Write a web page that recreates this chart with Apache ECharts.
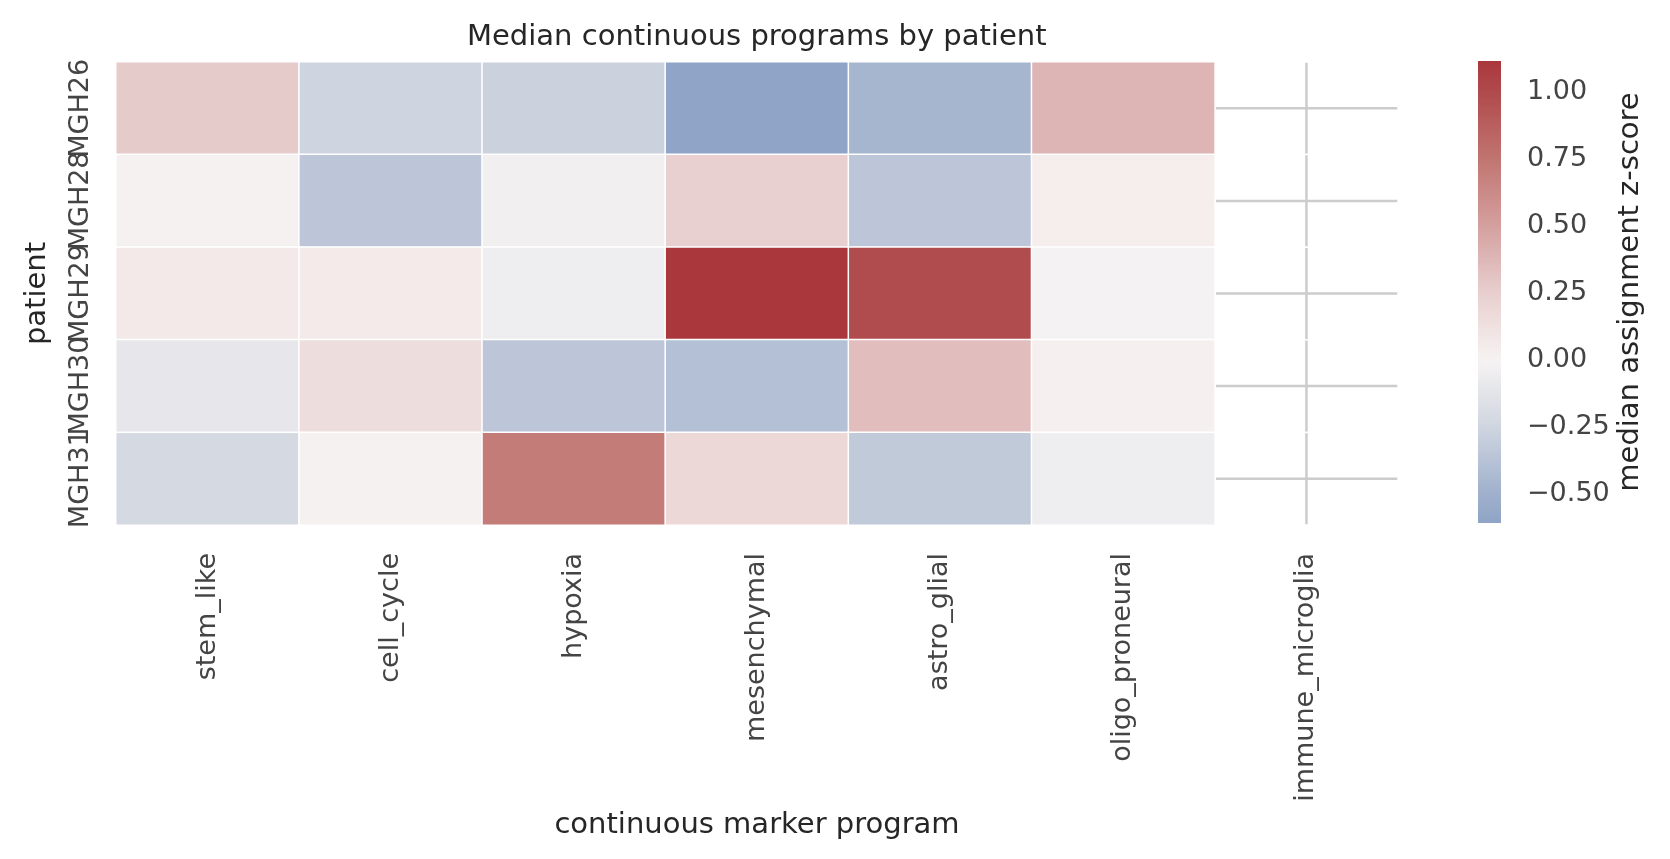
<!DOCTYPE html>
<html>
<head>
<meta charset="utf-8">
<script src="https://cdn.jsdelivr.net/npm/echarts@6/dist/echarts.min.js"></script>
<style>
  html, body { margin: 0; padding: 0; background: #fff; }
  #chart { width: 1670px; height: 859px; }
</style>
</head>
<body>
<div id="chart"></div>
<script>
// patients (rows) and marker programs (columns)
const PATIENTS = ['MGH26', 'MGH28', 'MGH29', 'MGH30', 'MGH31'];
const PROGRAMS = ['stem_like', 'cell_cycle', 'hypoxia', 'mesenchymal', 'astro_glial', 'oligo_proneural', 'immune_microglia'];

// median z-score per program, in patient order (null = no value)
const STEM_LIKE = [0.27, 0.01, 0.07, -0.10, -0.22];
const CELL_CYCLE = [-0.25, -0.35, 0.06, 0.15, 0.01];
const HYPOXIA = [-0.27, -0.03, -0.05, -0.35, 0.71];
const MESENCHYMAL = [-0.607, 0.24, 1.117, -0.39, 0.19];
const ASTRO_GLIAL = [-0.46, -0.35, 0.99, 0.34, -0.33];
const OLIGO_PRONEURAL = [0.39, 0.03, -0.01, 0.02, -0.05];
const IMMUNE_MICROGLIA = [null, null, null, null, null];

const CBAR_TICKS = [-0.5, -0.25, 0, 0.25, 0.5, 0.75, 1.0];

const COLUMNS = [STEM_LIKE, CELL_CYCLE, HYPOXIA, MESENCHYMAL, ASTRO_GLIAL, OLIGO_PRONEURAL, IMMUNE_MICROGLIA];

// diverging colormap (vlag-like), centered on 0
const CMAP = [
  [-0.62, '#8da3c5'], [-0.5, '#9fb0cc'], [-0.25, '#cfd5e0'], [0, '#f6f3f2'],
  [0.25, '#e8cfcf'], [0.5, '#d4a09f'], [0.75, '#c17571'], [1.0, '#b04a4c'], [1.12, '#a9373b']
];

function hexToRgb(h) {
  return [parseInt(h.slice(1, 3), 16), parseInt(h.slice(3, 5), 16), parseInt(h.slice(5, 7), 16)];
}
function colorAt(v) {
  if (v <= CMAP[0][0]) return CMAP[0][1];
  for (let i = 1; i < CMAP.length; i++) {
    if (v <= CMAP[i][0]) {
      const t = (v - CMAP[i - 1][0]) / (CMAP[i][0] - CMAP[i - 1][0]);
      const a = hexToRgb(CMAP[i - 1][1]), b = hexToRgb(CMAP[i][1]);
      const c = a.map((x, k) => Math.round(x + (b[k] - x) * t));
      return 'rgb(' + c.join(',') + ')';
    }
  }
  return CMAP[CMAP.length - 1][1];
}

const heatData = [];
const emptyCells = [];
COLUMNS.forEach((col, xi) => {
  col.forEach((v, yi) => {
    if (v === null) emptyCells.push([xi, yi]);
    else heatData.push([xi, yi, v]);
  });
});
const allValues = heatData.map(d => d[2]);
const VMIN = Math.min(...allValues);
const VMAX = Math.max(...allValues);

// sample the colormap evenly over the data range
const N = 120;
const rangeColors = [];
const gradStops = [];
for (let i = 0; i <= N; i++) {
  const v = VMIN + (VMAX - VMIN) * i / N;
  rangeColors.push(colorAt(v));
  gradStops.push({ offset: i / N, color: colorAt(v) });
}

const FONT = 'DejaVu Sans';
const fmt = v => (v < 0 ? '\u2212' : '') + Math.abs(v).toFixed(2);

const chart = echarts.init(document.getElementById('chart'));
chart.setOption({
  animation: false,
  backgroundColor: '#fff',
  textStyle: { fontFamily: FONT },
  title: {
    text: 'Median continuous programs by patient',
    left: 462, top: 18,
    textStyle: { fontFamily: FONT, fontSize: 29, fontWeight: 'normal', color: '#262626' }
  },
  grid: [
    { left: 116, top: 62, width: 1282, height: 463 },
    { left: 1478, top: 61, width: 23, height: 462 }
  ],
  xAxis: [
    {
      type: 'category', gridIndex: 0, data: PROGRAMS,
      axisLine: { show: false }, axisTick: { show: false }, splitLine: { show: false },
      axisLabel: { rotate: 90, fontSize: 27, color: '#444', margin: 28, interval: 0, fontFamily: FONT },
      name: 'continuous marker program', nameLocation: 'middle', nameGap: 286,
      nameTextStyle: { fontSize: 29, color: '#262626', fontFamily: FONT }
    },
    { type: 'value', gridIndex: 1, min: 0, max: 1, show: false }
  ],
  yAxis: [
    {
      type: 'category', gridIndex: 0, data: PATIENTS, inverse: true,
      axisLine: { show: false }, axisTick: { show: false }, splitLine: { show: false },
      axisLabel: { rotate: 90, fontSize: 27, color: '#444', margin: 22, interval: 0, fontFamily: FONT },
      name: 'patient', nameLocation: 'middle', nameGap: 64,
      nameTextStyle: { fontSize: 29, color: '#262626', fontFamily: FONT }
    },
    {
      type: 'value', gridIndex: 1, position: 'right', min: VMIN, max: VMAX,
      axisLine: { show: false }, splitLine: { show: false },
      axisTick: { show: true, customValues: CBAR_TICKS, length: 15, lineStyle: { color: '#3d3d3d', width: 3 } },
      axisLabel: { customValues: CBAR_TICKS, formatter: fmt, fontSize: 27, color: '#444', margin: 26, fontFamily: FONT },
      name: 'median assignment z-score', nameLocation: 'middle', nameGap: 115,
      nameTextStyle: { fontSize: 29, color: '#262626', fontFamily: FONT }
    }
  ],
  visualMap: {
    type: 'continuous', show: false, seriesIndex: 0,
    min: VMIN, max: VMAX, inRange: { color: rangeColors }
  },
  series: [
    {
      type: 'heatmap', xAxisIndex: 0, yAxisIndex: 0, data: heatData,
      itemStyle: { borderColor: '#fff', borderWidth: 1.5 },
      emphasis: { disabled: true }, z: 3
    },
    {
      // axes grid shows through cells without a value
      type: 'custom', xAxisIndex: 0, yAxisIndex: 0, data: emptyCells, z: 2, silent: true,
      renderItem: function (params, api) {
        const c = api.coord([api.value(0), api.value(1)]);
        const s = api.size([1, 1]);
        const gl = { stroke: '#cccccc', lineWidth: 2.5 };
        return {
          type: 'group',
          children: [
            { type: 'line', shape: { x1: c[0] - s[0] / 2, y1: c[1], x2: c[0] + s[0] / 2, y2: c[1] }, style: gl },
            { type: 'line', shape: { x1: c[0], y1: c[1] - s[1] / 2, x2: c[0], y2: c[1] + s[1] / 2 }, style: gl },
            { type: 'rect', shape: { x: c[0] - s[0] / 2, y: c[1] - s[1] / 2, width: s[0], height: s[1] },
              style: { fill: 'none', stroke: '#fff', lineWidth: 1.5 } }
          ]
        };
      }
    },
    {
      // colorbar
      type: 'custom', xAxisIndex: 1, yAxisIndex: 1, data: [[0, VMIN]], silent: true,
      renderItem: function (params, api) {
        const p0 = api.coord([0, VMAX]);
        const p1 = api.coord([1, VMIN]);
        return {
          type: 'rect',
          shape: { x: p0[0], y: p0[1], width: p1[0] - p0[0], height: p1[1] - p0[1] },
          style: { fill: new echarts.graphic.LinearGradient(0, 1, 0, 0, gradStops) }
        };
      }
    }
  ]
});
</script>
</body>
</html>
